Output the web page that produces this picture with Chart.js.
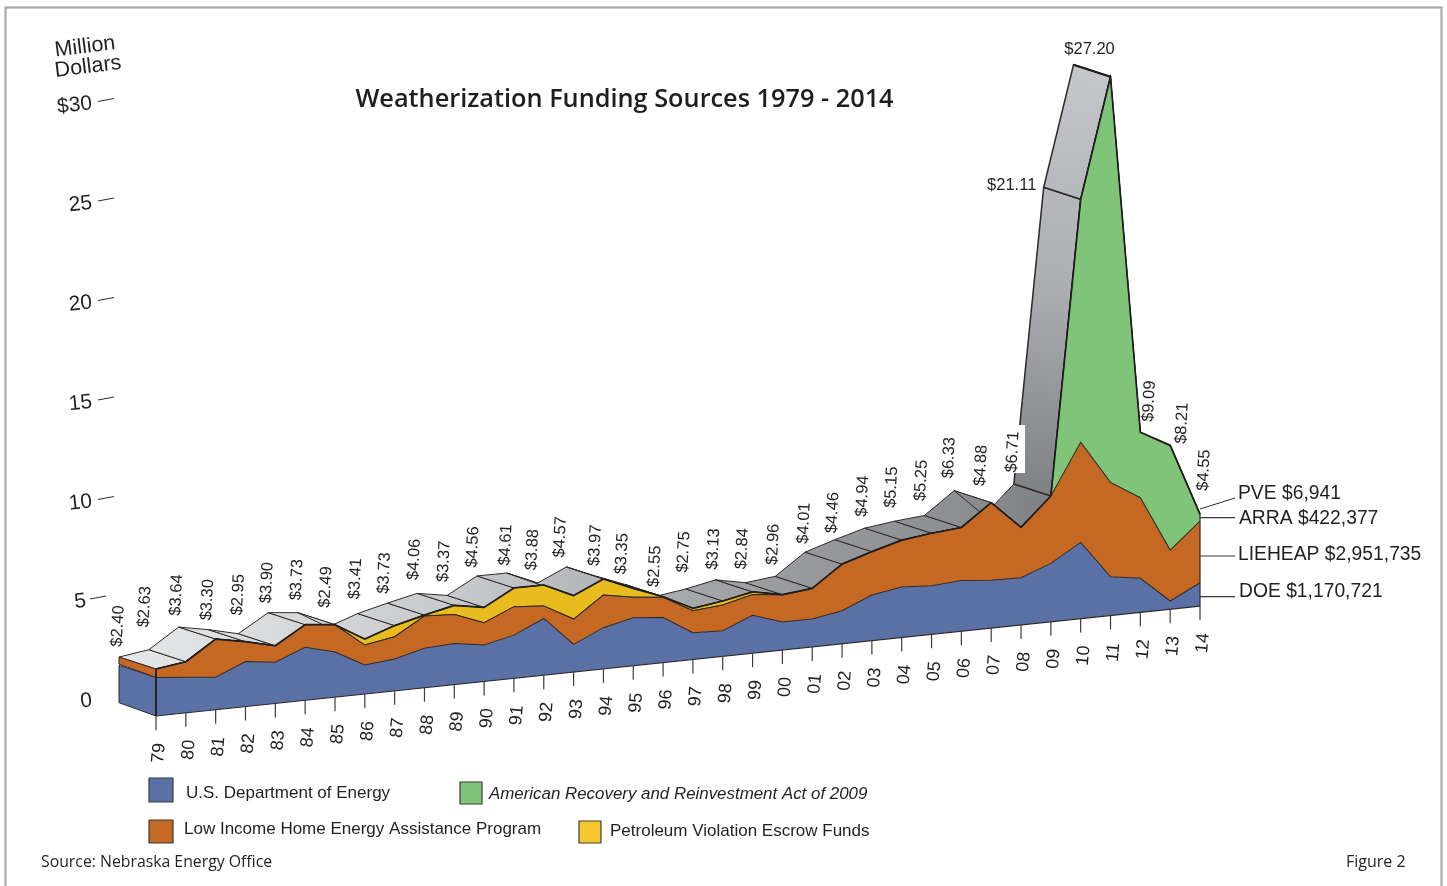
<!DOCTYPE html>
<html><head><meta charset="utf-8">
<style>html,body{margin:0;padding:0;background:#fff;overflow:hidden}canvas{display:block}</style>
<script src="https://cdn.jsdelivr.net/npm/chart.js@4/dist/chart.umd.min.js"></script>
</head><body>
<canvas id="c" width="1447" height="886"></canvas>
<script>
const years=['79','80','81','82','83','84','85','86','87','88','89','90','91','92','93','94','95','96','97','98','99','00','01','02','03','04','05','06','07','08','09','10','11','12','13','14'];
const doe=[1.94,1.79,1.63,2.26,2.07,2.66,2.27,1.46,1.60,1.98,2.07,1.83,2.17,2.85,1.39,2.07,2.41,2.26,1.34,1.29,1.90,1.41,1.40,1.66,2.29,2.53,2.44,2.55,2.40,2.37,2.93,3.83,1.94,1.71,0.41,1.17];
const liheap=[0.42,0.78,1.92,1.00,0.83,1.14,1.37,1.00,1.12,1.62,1.45,1.12,1.43,0.63,1.27,1.64,1.03,1.02,1.11,1.29,1.05,1.35,1.54,2.34,2.18,2.36,2.64,2.66,3.90,2.53,3.39,5.03,4.75,4.05,2.56,3.10];
const arra=[0,0,0,0,0,0,0,0,0,0,0,0,0,0,0,0,0,0,0,0,0,0,0,0,0,0,0,0,0,0,0,12.21,20.38,3.29,5.23,0.33];
const pve=[0,0,0,0,0,0,0,0.30,0.56,0.05,0.46,0.77,0.94,1.05,1.18,0.81,0.45,0.03,0.12,0.20,0.13,0.02,0,0,0,0,0,0,0,0,0,0,0,0,0.04,0.02];
const totalLabels=['$2.40','$2.63','$3.64','$3.30','$2.95','$3.90','$3.73','$2.49','$3.41','$3.73','$4.06','$3.37','$4.56','$4.61','$3.88','$4.57','$3.97','$3.35','$2.55','$2.75','$3.13','$2.84','$2.96','$4.01','$4.46','$4.94','$5.15','$5.25','$6.33','$4.88','$6.71','$21.11','$27.20','$9.09','$8.21','$4.55'];
const yTicks=[0,5,10,15,20,25,30];
const yTickLabels=['0','5','10','15','20','25','$30'];
const seriesNames=['U.S. Department of Energy','Low Income Home Energy Assistance Program','American Recovery and Reinvestment Act of 2009','Petroleum Violation Escrow Funds'];
const endNotes=['DOE $1,170,721','LIEHEAP $2,951,735','ARRA $422,377','PVE $6,941'];

const COL={doe:'#5b71a6',lie:'#c46823',arra:'#80c47a',pve:'#e8bb1f',line:'#2b2a29'};
const labelDx=[-1,-4,-2,-1,0,-1,-1,-2,-2,-3,-3,-3,-4,-1,-4,-6,-1,-4,-1,-2,-2,-3,-2,-1,-2,-2,-3,-3,-5,-3,-1,-32,16,46,49,41];
const labelLift=[31,43,32,30,39,30,33,40,35,30,34,34,29,28,34,30,31,31,30,37,31,34,32,29,27,32,34,35,33,50,32,2,15,19,10,32];

const X0=156,K=-3.143/29.84,DEPTH=[-37,-12];
const total=years.map((_,i)=>doe[i]+liheap[i]+arra[i]+pve[i]);
const rad=d=>d*Math.PI/180;

function P(chart,i,v){
  const x=chart.scales.x.getPixelForValue(i), y=chart.scales.y.getPixelForValue(v);
  return [x,y+K*(x-X0)];
}
function text(ctx,s,x,y,font,color,rot,align){
  ctx.save();ctx.translate(x,y);ctx.rotate(rad(rot||0));
  ctx.font=font;ctx.fillStyle=color||'#231f20';ctx.textAlign=align||'center';ctx.textBaseline='middle';
  ctx.fillText(s,0,0);ctx.restore();
}
function seg(ctx,a,b,c,w){ctx.strokeStyle=c;ctx.lineWidth=w;ctx.beginPath();ctx.moveTo(a[0],a[1]);ctx.lineTo(b[0],b[1]);ctx.stroke();}

const scene={
  id:'scene',
  beforeDatasetsDraw(chart){
    const ctx=chart.ctx;
    ctx.save();
    ctx.strokeStyle='#ababad';ctx.lineWidth=2.2;ctx.strokeRect(5.5,7.5,1436,884);
    const g=ctx.createLinearGradient(119,0,1045,0);
    [[0,'#e6e7e8'],[0.24,'#d3d4d6'],[0.39,'#c5c6c9'],[0.52,'#b4b5b8'],[0.63,'#a4a5a8'],[0.74,'#98999c'],[0.9,'#8e8f92'],[1,'#808184']].forEach(s=>g.addColorStop(s[0],s[1]));
    const gp=ctx.createLinearGradient(1075,65,1020,500);
    gp.addColorStop(0,'#c6c7cb');gp.addColorStop(0.5,'#adaeb1');gp.addColorStop(1,'#7e7f82');
    for(let i=0;i<32;i++){
      const a=P(chart,i,total[i]),b=P(chart,i+1,total[i+1]);
      const a2=[a[0]+DEPTH[0],a[1]+DEPTH[1]],b2=[b[0]+DEPTH[0],b[1]+DEPTH[1]];
      ctx.beginPath();ctx.moveTo(a[0],a[1]);ctx.lineTo(b[0],b[1]);ctx.lineTo(b2[0],b2[1]);ctx.lineTo(a2[0],a2[1]);ctx.closePath();
      ctx.fillStyle=i>=30?gp:g;ctx.fill();
      ctx.strokeStyle=COL.line;ctx.lineWidth=i>=30?1.5:1;ctx.stroke();
      if(i===31)seg(ctx,b,b2,'#1f1d1d',2.2);
    }
    const side=(v0,v1,c)=>{
      const a=P(chart,0,v0),b=P(chart,0,v1);
      ctx.beginPath();ctx.moveTo(a[0],a[1]);ctx.lineTo(b[0],b[1]);ctx.lineTo(b[0]+DEPTH[0],b[1]+DEPTH[1]);
      ctx.lineTo(a[0]+DEPTH[0],a[1]+DEPTH[1]-1.3);ctx.closePath();
      ctx.fillStyle=c;ctx.fill();ctx.strokeStyle=COL.line;ctx.lineWidth=1;ctx.stroke();
    };
    side(0,doe[0],COL.doe);
    side(doe[0],total[0],COL.lie);
    ctx.restore();
    // skew the plotted series onto the tilted floor
    ctx.save();
    ctx.transform(1,K,0,1,0,-K*X0);
  },
  afterDatasetsDraw(chart){
    const ctx=chart.ctx;
    ctx.restore();
    ctx.save();
    ctx.strokeStyle='#1f1d1d';ctx.lineWidth=1.7;ctx.lineJoin='round';ctx.beginPath();
    total.forEach((v,i)=>{const p=P(chart,i,v);i?ctx.lineTo(p[0],p[1]):ctx.moveTo(p[0],p[1]);});
    ctx.stroke();
    seg(ctx,P(chart,0,0),P(chart,35,0),COL.line,1.2);
    seg(ctx,P(chart,0,0),P(chart,0,total[0]),'#1f1d1d',1.8);
    seg(ctx,P(chart,35,0),P(chart,35,total[35]),COL.line,1.2);
    years.forEach((s,i)=>{
      const p=P(chart,i,0);
      seg(ctx,p,[p[0],p[1]+14],'#3c3b3b',1.2);
      text(ctx,s,p[0]+3,p[1]+37,'18px "Liberation Sans"','#231f20',-85);
    });
    yTicks.forEach((v,n)=>{
      const yy=chart.scales.y.getPixelForValue(v)-19;
      const sh=v===5?-8:0;
      if(v>0)seg(ctx,[98+sh,yy+1.5],[114+sh,yy-1.5],'#2b2a29',1);
      text(ctx,yTickLabels[n],(v===5?86:92),yy+3.5,'21px "Liberation Sans"','#231f20',-6,'right');
    });
    text(ctx,'Million',85,47,'21.5px "Liberation Sans"','#231f20',-7);
    text(ctx,'Dollars',88,67,'21.5px "Liberation Sans"','#231f20',-7);
    ctx.fillStyle='#fff';ctx.fillRect(1003,425,22,48);
    totalLabels.forEach((s,i)=>{
      const p=P(chart,i,total[i]);
      const x=p[0]+DEPTH[0]+labelDx[i],y=p[1]+DEPTH[1]-labelLift[i];
      const flat=i===31||i===32;
      text(ctx,s,x,y,'16.5px "Liberation Sans"','#231f20',flat?0:-87);
    });
    const e=P(chart,35,0)[0];
    const f='19.3px "Liberation Sans"';
    seg(ctx,[e,596.7],[e+35,596.7],'#3c3b3b',1.2);
    seg(ctx,[e,556],[e+35,556],'#3c3b3b',1.2);
    seg(ctx,[e,517.7],[e+35,517.7],'#3c3b3b',1.2);
    seg(ctx,[e,509],[e+35,498],'#2b2a29',1);
    text(ctx,endNotes[0],1239,592,f,'#231f20',0,'left');
    text(ctx,endNotes[1],1238,555,f,'#231f20',0,'left');
    text(ctx,endNotes[2],1239,519,f,'#231f20',0,'left');
    text(ctx,endNotes[3],1238,494,f,'#231f20',0,'left');
    text(ctx,'Weatherization Funding Sources 1979 - 2014',624.5,100,'600 25.3px "Open Sans"','#1f1d1d',0);
    const box=(x,y,w,h,c)=>{ctx.fillStyle=c;ctx.fillRect(x,y,w,h);ctx.strokeStyle='#3c3b3b';ctx.lineWidth=1.2;ctx.strokeRect(x,y,w,h);};
    box(149,778,24,24,COL.doe);
    box(460,782,22,22,COL.arra);
    box(149,820,24,23,COL.lie);
    box(579,821,22,22,'#f6c72e');
    text(ctx,seriesNames[0],186,793,'17px "Liberation Sans"','#231f20',0,'left');
    text(ctx,seriesNames[2],489,794,'italic 16.9px "Liberation Sans"','#231f20',0,'left');
    text(ctx,seriesNames[1],184,829,'17px "Liberation Sans"','#231f20',0,'left');
    text(ctx,seriesNames[3],610,831,'17px "Liberation Sans"','#231f20',0,'left');
    text(ctx,'Source: Nebraska Energy Office',41,862,'15.8px "Open Sans"','#231f20',0,'left');
    text(ctx,'Figure 2',1346,862,'16px "Open Sans"','#231f20',0,'left');
    ctx.restore();
  }
};

const ds=(label,data,color,fill)=>({label,data,backgroundColor:color,borderColor:COL.line,borderWidth:1,fill,pointRadius:0,tension:0,clip:false,stack:'s'});
new Chart(document.getElementById('c'),{
  type:'line',
  data:{labels:years,datasets:[
    ds(seriesNames[0],doe,COL.doe,'origin'),
    ds(seriesNames[1],liheap,COL.lie,'-1'),
    ds(seriesNames[2],arra,COL.arra,'-1'),
    ds(seriesNames[3],pve,COL.pve,'-1')
  ]},
  options:{
    responsive:false,animation:false,
    layout:{padding:{left:156,right:247,top:0,bottom:0}},
    plugins:{legend:{display:false},tooltip:{enabled:false},title:{display:false}},
    scales:{
      x:{type:'category',display:false,offset:false},
      y:{type:'linear',display:false,stacked:true,min:(716-886)/19.9,max:716/19.9}
    }
  },
  plugins:[scene]
});
</script>
</body></html>
